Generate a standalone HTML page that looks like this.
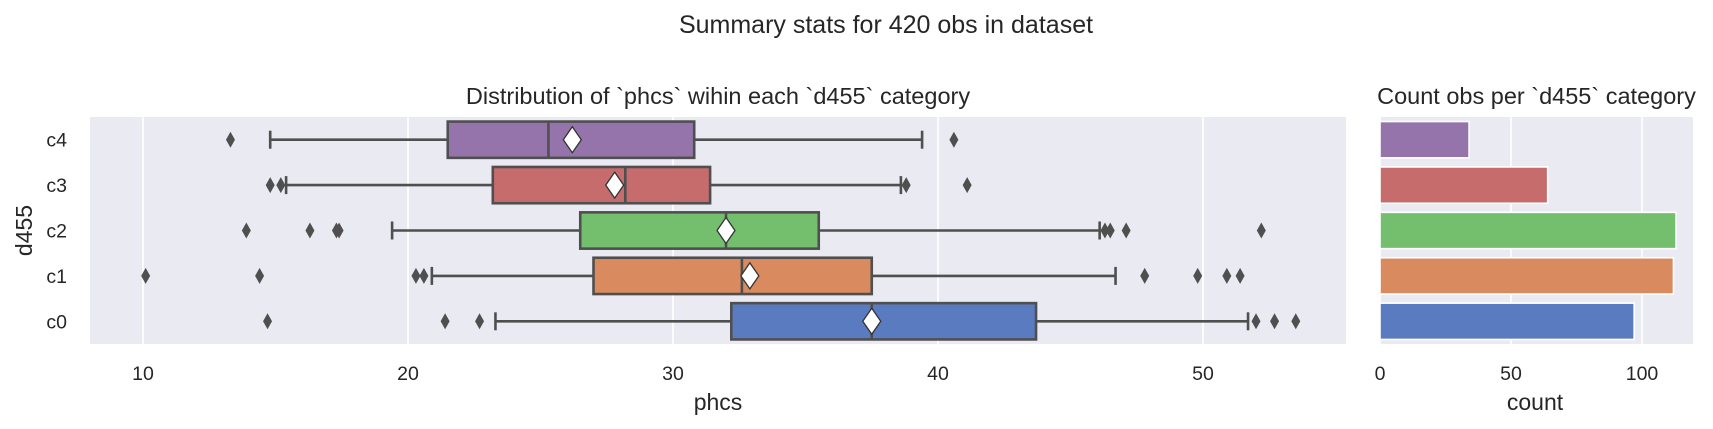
<!DOCTYPE html>
<html><head><meta charset="utf-8"><style>
body{margin:0;background:#fff;}
svg{display:block;font-family:"Liberation Sans","DejaVu Sans",sans-serif;}
</style></head><body>
<svg id="fig" width="1713" height="429" viewBox="0 0 1713 429">
<text x="886" y="33" font-size="25" text-anchor="middle" fill="#262626">Summary stats for 420 obs in dataset</text>
<g id="left"></g>
<g id="right"></g>
</svg>
<script>
const categories=["c4","c3","c2","c1","c0"];
const colors=["#9474ab","#c66c6c","#74bf6e","#d98a5e","#5a7bbf"];
const q1=[21.5,23.2,26.5,27.0,32.2];
const medians=[25.3,28.2,32.0,32.6,37.5];
const q3=[30.8,31.4,35.5,37.5,43.7];
const means=[26.2,27.8,32.0,32.9,37.5];
const whiskLo=[14.8,15.4,19.4,20.9,23.3];
const whiskHi=[39.4,38.6,46.1,46.7,51.7];
const fliers=[[13.3,40.6],[14.8,15.2,38.8,41.1],[13.9,16.3,17.3,17.4,46.3,46.5,47.1,52.2],[10.1,14.4,20.3,20.6,47.8,49.8,50.9,51.4],[14.7,21.4,22.7,52.0,52.7,53.5]];
const counts=[34,64,113,112,97];
const xTicks=[10,20,30,40,50];
const cTicks=[0,50,100];
const NS="http://www.w3.org/2000/svg";
function mk(p,t,a){const e=document.createElementNS(NS,t);for(const k in a)e.setAttribute(k,a[k]);p.appendChild(e);return e;}
const L=document.getElementById('left'),R=document.getElementById('right');
const topY=117,botY=344,rowH=45.4;
const lx0=90,lx1=1346;
const X=v=>143+(v-10)*26.5;
const Y=i=>topY+rowH*(i+0.5);
const C=v=>1380+v*2.62;
const rx0=1380,rx1=1693;
const TF=19.5,AF=23,SF=23.5,SW=2.6;
let bg=mk(L,'rect',{x:lx0,y:topY,width:lx1-lx0,height:botY-topY,fill:'#eaeaf2'});


xTicks.forEach(t=>{
 let g=mk(L,'line',{x1:X(t),x2:X(t),y1:topY,y2:botY,stroke:'#fff','stroke-width':1.6});
 
 
 let tx=mk(L,'text',{x:X(t),y:380,'font-size':TF,'text-anchor':'middle',fill:'#262626'});tx.textContent=t;
 
 
});
categories.forEach((c,i)=>{
 const y=Y(i),h=36.3,col='#4f4f4f';
 let ty=mk(L,'text',{x:67,y:y+7,'font-size':TF,'text-anchor':'end',fill:'#262626'});ty.textContent=c;
 
 
 let w1=mk(L,'line',{x1:X(whiskLo[i]),x2:X(q1[i]),y1:y,y2:y,stroke:col,'stroke-width':SW});
 
 
 let w2=mk(L,'line',{x1:X(q3[i]),x2:X(whiskHi[i]),y1:y,y2:y,stroke:col,'stroke-width':SW});
 
 
 [whiskLo[i],whiskHi[i]].forEach(v=>{let cap=mk(L,'line',{x1:X(v),x2:X(v),y1:y-9,y2:y+9,stroke:col,'stroke-width':SW});
  
  });
 let b=mk(L,'rect',{x:X(q1[i]),y:y-h/2,width:X(q3[i])-X(q1[i]),height:h,fill:colors[i],stroke:col,'stroke-width':SW});
 
 
 let m=mk(L,'line',{x1:X(medians[i]),x2:X(medians[i]),y1:y-h/2,y2:y+h/2,stroke:col,'stroke-width':SW});
 
 
 fliers[i].forEach(v=>{const x=X(v);let f=mk(L,'path',{d:`M${x},${y-8}L${x+4.5},${y}L${x},${y+8}L${x-4.5},${y}Z`,fill:'#4f4f4f'});
  
  });
 const mx=X(means[i]);
 let mm=mk(L,'path',{d:`M${mx},${y-13}L${mx+9},${y}L${mx},${y+13}L${mx-9},${y}Z`,fill:'#fff',stroke:'#333','stroke-width':1.3});
 
 
});
let lt=mk(L,'text',{x:(lx0+lx1)/2,y:104,'font-size':SF,'text-anchor':'middle',fill:'#262626'});lt.textContent="Distribution of `phcs` wihin each `d455` category";


let xl=mk(L,'text',{x:(lx0+lx1)/2,y:410,'font-size':AF,'text-anchor':'middle',fill:'#262626'});xl.textContent="phcs";


let yl=mk(L,'text',{x:0,y:0,'font-size':AF,'text-anchor':'middle',fill:'#262626',transform:`translate(32,${(topY+botY)/2}) rotate(-90)`});yl.textContent="d455";


let bg2=mk(R,'rect',{x:rx0,y:topY,width:rx1-rx0,height:botY-topY,fill:'#eaeaf2'});


cTicks.forEach(t=>{
 let g=mk(R,'line',{x1:C(t),x2:C(t),y1:topY,y2:botY,stroke:'#fff','stroke-width':1.6});
 
 
 let tx=mk(R,'text',{x:C(t),y:380,'font-size':TF,'text-anchor':'middle',fill:'#262626'});tx.textContent=t;
 
 
});
categories.forEach((c,i)=>{
 const y=Y(i),h=36.3;
 let b=mk(R,'rect',{x:C(0),y:y-h/2,width:C(counts[i])-C(0),height:h,fill:colors[i],stroke:'#fff','stroke-width':1.6});
 
 
});
let rt=mk(R,'text',{x:(rx0+rx1)/2,y:104,'font-size':SF,'text-anchor':'middle',fill:'#262626'});rt.textContent="Count obs per `d455` category";


let cx=mk(R,'text',{x:C(50)+24,y:410,'font-size':AF,'text-anchor':'middle',fill:'#262626'});cx.textContent="count";


</script>
</body></html>
